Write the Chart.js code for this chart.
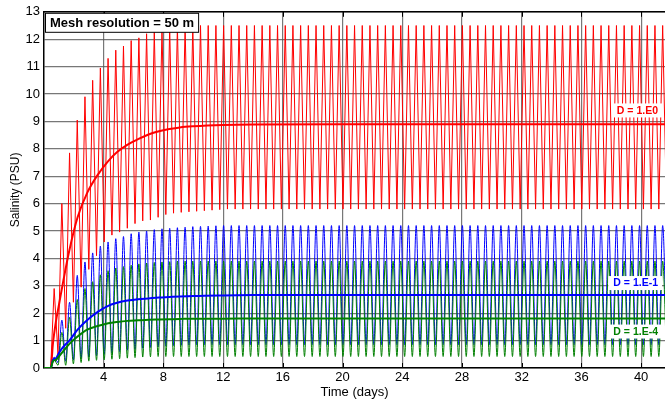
<!DOCTYPE html>
<html>
<head>
<meta charset="utf-8">
<script src="https://cdn.jsdelivr.net/npm/chart.js@4.4.1/dist/chart.umd.min.js"></script>
<style>
  html, body { margin: 0; padding: 0; background: #fff; }
  canvas { display: block; }
</style>
</head>
<body>
<canvas id="chart" width="665" height="400"></canvas>
<script>
// tidal cycle timing (days): first peak and period
const firstPeakDay = 0.68;
const tidePeriod = 0.516;
const riseStartDay = 0.45;

// peak / trough salinity for each tidal cycle (80 cycles)
const redPeaks = [
  2.9, 6.0, 7.85, 9.05, 9.9, 10.5, 10.95, 11.3, 11.6, 11.75,
  11.95, 12.05, 12.2, 12.3, 12.38, 12.43, 12.46, 12.48, 12.5, 12.5,
  12.5, 12.5, 12.5, 12.5, 12.5, 12.5, 12.5, 12.5, 12.5, 12.5,
  12.5, 12.5, 12.5, 12.5, 12.5, 12.5, 12.5, 12.5, 12.5, 12.5,
  12.5, 12.5, 12.5, 12.5, 12.5, 12.5, 12.5, 12.5, 12.5, 12.5,
  12.5, 12.5, 12.5, 12.5, 12.5, 12.5, 12.5, 12.5, 12.5, 12.5,
  12.5, 12.5, 12.5, 12.5, 12.5, 12.5, 12.5, 12.5, 12.5, 12.5,
  12.5, 12.5, 12.5, 12.5, 12.5, 12.5, 12.5, 12.5, 12.5, 12.5
];
const redTroughs = [
  0.5, 1.45, 2.4, 2.95, 3.6, 4.1, 4.6, 4.85, 4.96, 5.1,
  5.27, 5.37, 5.4, 5.5, 5.6, 5.65, 5.68, 5.7, 5.72, 5.74,
  5.76, 5.78, 5.8, 5.8, 5.8, 5.8, 5.8, 5.8, 5.8, 5.8,
  5.8, 5.8, 5.8, 5.8, 5.8, 5.8, 5.8, 5.8, 5.8, 5.8,
  5.8, 5.8, 5.8, 5.8, 5.8, 5.8, 5.8, 5.8, 5.8, 5.8,
  5.8, 5.8, 5.8, 5.8, 5.8, 5.8, 5.8, 5.8, 5.8, 5.8,
  5.8, 5.8, 5.8, 5.8, 5.8, 5.8, 5.8, 5.8, 5.8, 5.8,
  5.8, 5.8, 5.8, 5.8, 5.8, 5.8, 5.8, 5.8, 5.8, 5.8
];
const bluePeaks = [
  0.4, 1.75, 2.4, 3.38, 3.87, 4.2, 4.45, 4.6, 4.72, 4.8,
  4.9, 4.96, 5.0, 5.05, 5.08, 5.1, 5.12, 5.14, 5.16, 5.17,
  5.18, 5.19, 5.2, 5.2, 5.2, 5.2, 5.2, 5.2, 5.2, 5.2,
  5.2, 5.2, 5.2, 5.2, 5.2, 5.2, 5.2, 5.2, 5.2, 5.2,
  5.2, 5.2, 5.2, 5.2, 5.2, 5.2, 5.2, 5.2, 5.2, 5.2,
  5.2, 5.2, 5.2, 5.2, 5.2, 5.2, 5.2, 5.2, 5.2, 5.2,
  5.2, 5.2, 5.2, 5.2, 5.2, 5.2, 5.2, 5.2, 5.2, 5.2,
  5.2, 5.2, 5.2, 5.2, 5.2, 5.2, 5.2, 5.2, 5.2, 5.2
];
const blueTroughs = [
  0.2, 0.25, 0.3, 0.35, 0.4, 0.45, 0.5, 0.55, 0.6, 0.65,
  0.68, 0.72, 0.75, 0.77, 0.8, 0.82, 0.83, 0.84, 0.85, 0.85,
  0.85, 0.85, 0.85, 0.85, 0.85, 0.85, 0.85, 0.85, 0.85, 0.85,
  0.85, 0.85, 0.85, 0.85, 0.85, 0.85, 0.85, 0.85, 0.85, 0.85,
  0.85, 0.85, 0.85, 0.85, 0.85, 0.85, 0.85, 0.85, 0.85, 0.85,
  0.85, 0.85, 0.85, 0.85, 0.85, 0.85, 0.85, 0.85, 0.85, 0.85,
  0.85, 0.85, 0.85, 0.85, 0.85, 0.85, 0.85, 0.85, 0.85, 0.85,
  0.85, 0.85, 0.85, 0.85, 0.85, 0.85, 0.85, 0.85, 0.85, 0.85
];
const greenPeaks = [
  0.3, 1.3, 1.85, 2.5, 2.9, 3.15, 3.4, 3.55, 3.65, 3.7,
  3.75, 3.8, 3.83, 3.85, 3.87, 3.88, 3.9, 3.9, 3.9, 3.9,
  3.9, 3.9, 3.9, 3.9, 3.9, 3.9, 3.9, 3.9, 3.9, 3.9,
  3.9, 3.9, 3.9, 3.9, 3.9, 3.9, 3.9, 3.9, 3.9, 3.9,
  3.9, 3.9, 3.9, 3.9, 3.9, 3.9, 3.9, 3.9, 3.9, 3.9,
  3.9, 3.9, 3.9, 3.9, 3.9, 3.9, 3.9, 3.9, 3.9, 3.9,
  3.9, 3.9, 3.9, 3.9, 3.9, 3.9, 3.9, 3.9, 3.9, 3.9,
  3.9, 3.9, 3.9, 3.9, 3.9, 3.9, 3.9, 3.9, 3.9, 3.9
];
const greenTroughs = [
  0.1, 0.1, 0.15, 0.2, 0.25, 0.28, 0.3, 0.32, 0.34, 0.36,
  0.38, 0.4, 0.41, 0.42, 0.42, 0.42, 0.42, 0.42, 0.42, 0.42,
  0.42, 0.42, 0.42, 0.42, 0.42, 0.42, 0.42, 0.42, 0.42, 0.42,
  0.42, 0.42, 0.42, 0.42, 0.42, 0.42, 0.42, 0.42, 0.42, 0.42,
  0.42, 0.42, 0.42, 0.42, 0.42, 0.42, 0.42, 0.42, 0.42, 0.42,
  0.42, 0.42, 0.42, 0.42, 0.42, 0.42, 0.42, 0.42, 0.42, 0.42,
  0.42, 0.42, 0.42, 0.42, 0.42, 0.42, 0.42, 0.42, 0.42, 0.42,
  0.42, 0.42, 0.42, 0.42, 0.42, 0.42, 0.42, 0.42, 0.42, 0.42
];

// tidally averaged salinity
const meanDays  = [0, 0.45, 0.6, 0.8, 1.0, 1.3, 1.7, 2.25, 2.9, 3.6, 4.3, 4.9, 5.6, 6.3, 7.0, 7.7, 8.4, 9.1, 10, 12, 14, 20, 30, 41.6];
const redMean   = [0, 0, 0.9, 1.7, 2.3, 3.2, 4.3, 5.5, 6.4, 7.05, 7.55, 7.88, 8.15, 8.35, 8.52, 8.64, 8.72, 8.78, 8.82, 8.87, 8.89, 8.9, 8.9, 8.9];
const blueMean  = [0, 0, 0.3, 0.35, 0.55, 0.78, 1.0, 1.4, 1.75, 2.05, 2.27, 2.38, 2.46, 2.51, 2.54, 2.57, 2.59, 2.61, 2.63, 2.65, 2.66, 2.66, 2.66, 2.66];
const greenMean = [0, 0, 0.25, 0.3, 0.42, 0.62, 0.88, 1.15, 1.4, 1.53, 1.63, 1.68, 1.72, 1.74, 1.76, 1.77, 1.78, 1.79, 1.8, 1.8, 1.81, 1.81, 1.81, 1.81];

const xTicks = [4, 8, 12, 16, 20, 24, 28, 32, 36, 40];
const yTicks = [0, 1, 2, 3, 4, 5, 6, 7, 8, 9, 10, 11, 12, 13];

const labels = [
  { text: 'D = 1.E0',  color: '#ff0000', y: 9.4 },
  { text: 'D = 1.E-1', color: '#0000ff', y: 3.1 },
  { text: 'D = 1.E-4', color: '#008000', y: 1.33 }
];

// turn the per-cycle extremes into a zig-zag of points
const tidePoints = (peaks, troughs) => {
  const pts = [{ x: 0, y: 0 }, { x: riseStartDay, y: 0 }];
  peaks.forEach((p, k) => {
    pts.push({ x: firstPeakDay + k * tidePeriod, y: p });
    pts.push({ x: firstPeakDay + (k + 0.5) * tidePeriod, y: troughs[k] });
  });
  return pts;
};
const meanPoints = (vals) => meanDays.map((d, i) => ({ x: d, y: vals[i] }));

const RED = '#ff0000', BLUE = '#0000ff', GREEN = '#008000';
const FONT = '"Liberation Sans", Arial, sans-serif';

const tideSet = (data, color, order, tension) => ({
  data, borderColor: color, borderWidth: 1, pointRadius: 0, tension, order,
  cubicInterpolationMode: tension ? 'monotone' : 'default'
});
const meanSet = (data, color, order) => ({
  data, borderColor: color, borderWidth: 2, pointRadius: 0,
  cubicInterpolationMode: 'monotone', order
});

// frame, inside tick marks and the text boxes
const decorations = {
  id: 'decorations',
  afterDatasetsDraw(chart) {
    const { ctx, chartArea: a, scales } = chart;
    ctx.save();
    ctx.strokeStyle = '#000';
    ctx.lineWidth = 1.5;
    ctx.beginPath();
    ctx.moveTo(a.left, a.top);
    ctx.lineTo(a.right, a.top);
    ctx.stroke();
    ctx.lineWidth = 1;
    xTicks.forEach(v => {
      const x = Math.round(scales.x.getPixelForValue(v)) + 0.5;
      ctx.beginPath();
      ctx.moveTo(x, a.top); ctx.lineTo(x, a.top + 5);
      ctx.moveTo(x, a.bottom); ctx.lineTo(x, a.bottom - 5);
      ctx.stroke();
    });

    // title box
    ctx.font = 'bold 13px ' + FONT;
    ctx.textBaseline = 'middle';
    ctx.textAlign = 'left';
    const title = 'Mesh resolution = 50 m';
    const tw = ctx.measureText(title).width;
    ctx.fillStyle = '#fff';
    ctx.fillRect(a.left + 1.5, a.top + 1.5, tw + 9, 19);
    ctx.strokeStyle = '#000';
    ctx.lineWidth = 1;
    ctx.strokeRect(a.left + 1.5, a.top + 1.5, tw + 9, 19);
    ctx.fillStyle = '#000';
    ctx.fillText(title, a.left + 6, a.top + 11.5);

    // series labels
    ctx.font = 'bold 10.5px ' + FONT;
    labels.forEach(l => {
      const w = ctx.measureText(l.text).width;
      const y = scales.y.getPixelForValue(l.y);
      const x = 658 - w;
      ctx.fillStyle = '#fff';
      ctx.fillRect(x - 5, y - 7, w + 9, 14);
      ctx.fillStyle = l.color;
      ctx.fillText(l.text, x, y + 0.5);
    });
    ctx.restore();
  }
};

new Chart(document.getElementById('chart'), {
  type: 'line',
  data: {
    datasets: [
      tideSet(tidePoints(redPeaks, redTroughs), RED, 6, 0),
      tideSet(tidePoints(bluePeaks, blueTroughs), BLUE, 5, 0.3),
      tideSet(tidePoints(greenPeaks, greenTroughs), GREEN, 4, 0.3),
      meanSet(meanPoints(redMean), RED, 3),
      meanSet(meanPoints(blueMean), BLUE, 2),
      meanSet(meanPoints(greenMean), GREEN, 1)
    ]
  },
  options: {
    responsive: false,
    animation: false,
    events: [],
    layout: { padding: { top: 11, right: 0, left: 0, bottom: 0 } },
    plugins: { legend: { display: false }, tooltip: { enabled: false } },
    scales: {
      x: {
        type: 'linear',
        min: 0,
        max: 41.6,
        afterBuildTicks: s => { s.ticks = xTicks.map(v => ({ value: v })); },
        afterFit: s => { s.height = 32; },
        grid: { color: 'rgba(85,85,85,0.8)', lineWidth: 1.2, drawTicks: false },
        border: { color: '#000', width: 1.5 },
        ticks: { color: '#000', padding: 2, maxRotation: 0, font: { family: FONT, size: 13 } },
        title: { display: true, text: 'Time (days)', color: '#000', padding: 0, font: { family: FONT, size: 13 } }
      },
      y: {
        min: 0,
        max: 13,
        afterBuildTicks: s => { s.ticks = yTicks.map(v => ({ value: v })); },
        afterFit: s => { s.width = 44; },
        grid: { color: 'rgba(85,85,85,0.8)', lineWidth: 1.2, drawTicks: false },
        border: { color: '#000', width: 1.5 },
        ticks: { color: '#000', padding: 4, font: { family: FONT, size: 13 } },
        title: {
          display: true, text: 'Salinity (PSU)', color: '#000',
          padding: { top: 8, bottom: 0 }, font: { family: FONT, size: 12 }
        }
      }
    }
  },
  plugins: [decorations]
});
</script>
</body>
</html>
